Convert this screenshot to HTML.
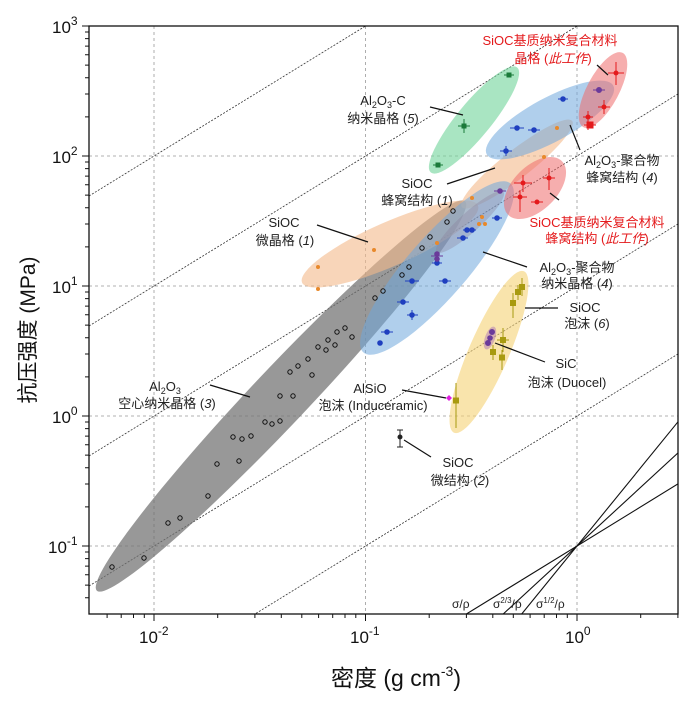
<!DOCTYPE html>
<html><head><meta charset="utf-8"><style>
html,body{margin:0;padding:0;background:#fff}
svg{display:block;font-family:"Liberation Sans","Noto Sans CJK SC",sans-serif}
.l{font-size:13px;fill:#222}
.r{font-size:13px;fill:#e41a1c}
.tk{font-size:17px;fill:#111}
</style></head><body>
<svg width="700" height="705" viewBox="0 0 700 705" xmlns="http://www.w3.org/2000/svg">
<defs><clipPath id="c"><rect x="89" y="26" width="589" height="588"/></clipPath></defs>
<rect width="700" height="705" fill="#fff"/>
<g stroke="#999" stroke-width="0.8" stroke-dasharray="3,3" fill="none">
<line x1="154" y1="26" x2="154" y2="614"/><line x1="365.5" y1="26" x2="365.5" y2="614"/><line x1="577" y1="26" x2="577" y2="614"/>
<line x1="89" y1="546" x2="678" y2="546"/><line x1="89" y1="416" x2="678" y2="416"/><line x1="89" y1="286" x2="678" y2="286"/><line x1="89" y1="156" x2="678" y2="156"/>
</g>
<g clip-path="url(#c)">
<g stroke="#333" stroke-width="0.8" stroke-dasharray="2,1.5" fill="none">
<line x1="89" y1="716" x2="678" y2="354"/><line x1="89" y1="586" x2="678" y2="224"/><line x1="89" y1="456" x2="678" y2="94"/><line x1="89" y1="326" x2="678" y2="-36"/><line x1="89" y1="196" x2="678" y2="-166"/>
</g>
<g stroke="#111" stroke-width="1.1">
<line x1="466.4" y1="614" x2="678" y2="483.9"/><line x1="503.2" y1="614" x2="678" y2="452.9"/><line x1="521.7" y1="614" x2="678" y2="421.8"/>
</g>
<ellipse cx="281" cy="396" rx="268" ry="28" transform="rotate(-46.6 281 396)" fill="#707070" fill-opacity="0.72"/>
<ellipse cx="390" cy="244" rx="96" ry="22" transform="rotate(-23.7 390 244)" fill="#f4b98a" fill-opacity="0.6"/>
<ellipse cx="517" cy="164" rx="70" ry="14" transform="rotate(-38 517 164)" fill="#f4b98a" fill-opacity="0.6"/>
<ellipse cx="437" cy="268" rx="112" ry="30" transform="rotate(-49 437 268)" fill="#6fa8dc" fill-opacity="0.55"/>
<ellipse cx="470" cy="222" rx="45" ry="10" transform="rotate(-42 470 222)" fill="#8a7f9a" fill-opacity="0.35"/>
<ellipse cx="550" cy="120" rx="72" ry="22" transform="rotate(-28.5 550 120)" fill="#6fa8dc" fill-opacity="0.55"/>
<ellipse cx="474" cy="120" rx="68" ry="17" transform="rotate(-50.6 474 120)" fill="#6fd39a" fill-opacity="0.6"/>
<ellipse cx="603" cy="90" rx="42" ry="16" transform="rotate(-62 603 90)" fill="#ef6b6b" fill-opacity="0.55"/>
<ellipse cx="535" cy="188" rx="38" ry="22" transform="rotate(-45 535 188)" fill="#ef6b6b" fill-opacity="0.55"/>
<ellipse cx="489" cy="352" rx="88" ry="20" transform="rotate(-66.6 489 352)" fill="#f5d274" fill-opacity="0.6"/>
<ellipse cx="490" cy="338" rx="12" ry="5" transform="rotate(-70 490 338)" fill="#9b59b6" fill-opacity="0.4"/>
</g>
<g fill="none" stroke="#111" stroke-width="1">
<circle cx="112" cy="567" r="2.2"/><circle cx="144" cy="558" r="2.2"/><circle cx="168" cy="523" r="2.2"/><circle cx="180" cy="518" r="2.2"/><circle cx="208" cy="496" r="2.2"/><circle cx="217" cy="464" r="2.2"/><circle cx="233" cy="437" r="2.2"/><circle cx="239" cy="461" r="2.2"/><circle cx="242" cy="439" r="2.2"/><circle cx="251" cy="436" r="2.2"/><circle cx="265" cy="422" r="2.2"/><circle cx="272" cy="424" r="2.2"/><circle cx="280" cy="421" r="2.2"/><circle cx="280" cy="396" r="2.2"/><circle cx="293" cy="396" r="2.2"/><circle cx="290" cy="372" r="2.2"/><circle cx="298" cy="366" r="2.2"/><circle cx="308" cy="359" r="2.2"/><circle cx="312" cy="375" r="2.2"/><circle cx="326" cy="350" r="2.2"/><circle cx="318" cy="347" r="2.2"/><circle cx="328" cy="340" r="2.2"/><circle cx="337" cy="332" r="2.2"/><circle cx="345" cy="328" r="2.2"/><circle cx="335" cy="345" r="2.2"/><circle cx="352" cy="337" r="2.2"/><circle cx="375" cy="298" r="2.2"/><circle cx="383" cy="291" r="2.2"/><circle cx="402" cy="275" r="2.2"/><circle cx="409" cy="267" r="2.2"/><circle cx="422" cy="248" r="2.2"/><circle cx="430" cy="237" r="2.2"/><circle cx="447" cy="222" r="2.2"/><circle cx="453" cy="211" r="2.2"/>
</g>
<g fill="#e8892b"><circle cx="318" cy="267" r="2"/><circle cx="318" cy="289" r="2"/><circle cx="374" cy="250" r="2"/><circle cx="437" cy="243" r="2"/><circle cx="472" cy="198" r="2"/><circle cx="479" cy="224" r="2"/><circle cx="485" cy="224" r="2"/><circle cx="482" cy="217" r="2"/><circle cx="544" cy="157" r="2"/><circle cx="557" cy="128" r="2"/></g>
<g stroke="#1f3fbf" stroke-width="1" fill="#1f3fbf">
<g><line x1="492" y1="218" x2="502" y2="218"/><circle cx="497" cy="218" r="2.3"/></g>
<g><line x1="463" y1="230" x2="476" y2="230"/><circle cx="467" cy="230" r="2.3"/><circle cx="472" cy="230" r="2.3"/></g>
<g><line x1="457" y1="238" x2="468" y2="238"/><circle cx="463" cy="238" r="2.3"/></g>
<g><line x1="432" y1="263" x2="442" y2="263"/><circle cx="437" cy="263" r="2.3"/></g>
<g><line x1="405" y1="281" x2="419" y2="281"/><circle cx="412" cy="281" r="2.3"/></g>
<g><line x1="439" y1="281" x2="451" y2="281"/><circle cx="445" cy="281" r="2.3"/></g>
<g><line x1="397" y1="302" x2="409" y2="302"/><circle cx="403" cy="302" r="2.3"/></g>
<g><line x1="407" y1="315" x2="418" y2="315"/><line x1="412" y1="310" x2="412" y2="320"/><circle cx="412" cy="315" r="2.3"/></g>
<g><line x1="381" y1="332" x2="393" y2="332"/><circle cx="387" cy="332" r="2.3"/></g>
<g><circle cx="380" cy="343" r="2.3"/></g>
<g><line x1="558" y1="99" x2="568" y2="99"/><circle cx="563" cy="99" r="2.3"/></g>
<g><line x1="510" y1="128" x2="524" y2="128"/><circle cx="517" cy="128" r="2.3"/></g>
<g><line x1="528" y1="130" x2="540" y2="130"/><circle cx="534" cy="130" r="2.3"/></g>
<g><line x1="500" y1="151" x2="512" y2="151"/><line x1="506" y1="146" x2="506" y2="156"/><circle cx="506" cy="151" r="2.3"/></g>
</g>
<g stroke="#6a3a9a" fill="#6a3a9a" stroke-width="1">
<line x1="494" y1="191" x2="506" y2="191"/><circle cx="500" cy="191" r="2.3"/>
<line x1="431" y1="256" x2="443" y2="256"/><circle cx="437" cy="254" r="2.3"/><circle cx="437" cy="259" r="2.3"/>
<line x1="593" y1="90" x2="605" y2="90"/><circle cx="599" cy="90" r="2.5"/>
<circle cx="492" cy="332" r="2.5"/><circle cx="488" cy="343" r="2.5"/><circle cx="490" cy="338" r="2.3"/>
</g>
<g stroke="#1b7a3a" fill="#1b7a3a" stroke-width="1">
<line x1="504" y1="75" x2="514" y2="75"/><rect x="507" y="73" width="4" height="4"/>
<line x1="458" y1="126" x2="470" y2="126"/><line x1="464" y1="119" x2="464" y2="133"/><rect x="462" y="124" width="4" height="4"/>
<line x1="433" y1="165" x2="443" y2="165"/><rect x="436" y="163" width="4" height="4"/>
</g>
<g stroke="#e41a1c" fill="#e41a1c" stroke-width="1">
<line x1="608" y1="73" x2="624" y2="73"/><line x1="616" y1="62" x2="616" y2="85"/><circle cx="616" cy="73" r="2"/>
<line x1="598" y1="107" x2="610" y2="107"/><line x1="604" y1="100" x2="604" y2="114"/><circle cx="604" cy="107" r="2"/>
<line x1="583" y1="117" x2="593" y2="117"/><line x1="588" y1="111" x2="588" y2="130"/><circle cx="588" cy="117" r="2"/>
<line x1="584" y1="125" x2="596" y2="125"/><rect x="587" y="122" width="6" height="6"/>
<line x1="543" y1="178" x2="555" y2="178"/><line x1="549" y1="168" x2="549" y2="190"/><circle cx="549" cy="178" r="2"/>
<line x1="514" y1="183" x2="532" y2="183"/><line x1="523" y1="175" x2="523" y2="192"/><circle cx="523" cy="183" r="2"/>
<line x1="513" y1="197" x2="527" y2="197"/><line x1="520" y1="190" x2="520" y2="212"/><circle cx="520" cy="197" r="2"/>
<line x1="531" y1="202" x2="543" y2="202"/><circle cx="537" cy="202" r="2"/>
</g>
<g stroke="#a89a10" fill="#a89a10" stroke-width="1">
<line x1="522" y1="278" x2="522" y2="296"/><rect x="519.5" y="284.5" width="5" height="5"/>
<line x1="518" y1="285" x2="518" y2="300"/><rect x="515.5" y="289.5" width="5" height="5"/>
<line x1="513" y1="293" x2="513" y2="318"/><rect x="510.5" y="300.5" width="5" height="5"/>
<line x1="503" y1="328" x2="503" y2="352"/><line x1="497" y1="340" x2="509" y2="340"/><rect x="500.5" y="337.5" width="5" height="5"/>
<line x1="493" y1="345" x2="493" y2="360"/><rect x="490.5" y="349.5" width="5" height="5"/>
<line x1="502" y1="350" x2="502" y2="370"/><rect x="499.5" y="355" width="5" height="5"/>
<line x1="456" y1="383" x2="456" y2="428"/><rect x="453.5" y="398" width="5" height="5"/>
</g>
<g fill="#e020e0"><path d="M449 395 L452 398 L449 401 L446 398Z"/></g>
<g stroke="#222" fill="#222" stroke-width="1"><line x1="400" y1="430" x2="400" y2="447"/><line x1="397" y1="430" x2="403" y2="430"/><line x1="397" y1="447" x2="403" y2="447"/><circle cx="400" cy="437" r="2"/></g>
<g stroke="#111" stroke-width="1.2">
<line x1="597" y1="65" x2="608" y2="75"/>
<line x1="430" y1="107" x2="463" y2="115"/>
<line x1="447" y1="184" x2="495" y2="168"/>
<line x1="570" y1="125" x2="580" y2="150"/>
<line x1="550" y1="193" x2="559" y2="200"/>
<line x1="483" y1="252" x2="527" y2="267"/>
<line x1="525" y1="308" x2="558" y2="308"/>
<line x1="317" y1="225" x2="368" y2="242"/>
<line x1="495" y1="343" x2="545" y2="362"/>
<line x1="210" y1="385" x2="250" y2="397"/>
<line x1="402" y1="390" x2="446" y2="398"/>
<line x1="404" y1="440" x2="431" y2="457"/>
</g>
<g text-anchor="middle">
<text class="r" x="550" y="45">SiOC基质纳米复合材料</text>
<text class="r" x="553" y="63">晶格 (<tspan font-style="italic">此工作</tspan>)</text>
<text class="l" x="383" y="105">Al<tspan font-size="9" dy="3">2</tspan><tspan dy="-3">O</tspan><tspan font-size="9" dy="3">3</tspan><tspan dy="-3">-C</tspan></text>
<text class="l" x="383" y="123">纳米晶格 (<tspan font-style="italic">5</tspan>)</text>
<text class="l" x="417" y="188">SiOC</text>
<text class="l" x="417" y="205">蜂窝结构 (<tspan font-style="italic">1</tspan>)</text>
<text class="l" x="622" y="165">Al<tspan font-size="9" dy="3">2</tspan><tspan dy="-3">O</tspan><tspan font-size="9" dy="3">3</tspan><tspan dy="-3">-聚合物</tspan></text>
<text class="l" x="622" y="182">蜂窝结构 (<tspan font-style="italic">4</tspan>)</text>
<text class="r" x="597" y="227">SiOC基质纳米复合材料</text>
<text class="r" x="597" y="243">蜂窝结构 (<tspan font-style="italic">此工作</tspan>)</text>
<text class="l" x="577" y="272">Al<tspan font-size="9" dy="3">2</tspan><tspan dy="-3">O</tspan><tspan font-size="9" dy="3">3</tspan><tspan dy="-3">-聚合物</tspan></text>
<text class="l" x="577" y="288">纳米晶格 (<tspan font-style="italic">4</tspan>)</text>
<text class="l" x="585" y="312">SiOC</text>
<text class="l" x="587" y="328">泡沫 (<tspan font-style="italic">6</tspan>)</text>
<text class="l" x="284" y="227">SiOC</text>
<text class="l" x="285" y="245">微晶格 (<tspan font-style="italic">1</tspan>)</text>
<text class="l" x="566" y="368">SiC</text>
<text class="l" x="567" y="387">泡沫 (Duocel)</text>
<text class="l" x="165" y="391">Al<tspan font-size="9" dy="3">2</tspan><tspan dy="-3">O</tspan><tspan font-size="9" dy="3">3</tspan></text>
<text class="l" x="167" y="408">空心纳米晶格 (<tspan font-style="italic">3</tspan>)</text>
<text class="l" x="370" y="393">AlSiO</text>
<text class="l" x="373" y="410">泡沫 (Induceramic)</text>
<text class="l" x="458" y="467">SiOC</text>
<text class="l" x="460" y="485">微结构 (<tspan font-style="italic">2</tspan>)</text>
</g>
<g class="l">
<text x="452" y="608" style="font-size:12px">σ/ρ</text>
<text x="493" y="608" style="font-size:12px">σ<tspan font-size="8" dy="-5">2/3</tspan><tspan dy="5">/ρ</tspan></text>
<text x="536" y="608" style="font-size:12px">σ<tspan font-size="8" dy="-5">1/2</tspan><tspan dy="5">/ρ</tspan></text>
</g>
<rect x="89" y="26" width="589" height="588" fill="none" stroke="#111" stroke-width="1.3"/>
<g stroke="#111" stroke-width="1">
<line x1="154" y1="614" x2="154" y2="621"/><line x1="365.5" y1="614" x2="365.5" y2="621"/><line x1="577" y1="614" x2="577" y2="621"/>
<path d="M107.1 614v4M121.2 614v4M133.5 614v4M144.3 614v4M217.7 614v4M254.9 614v4M281.3 614v4M301.8 614v4M318.6 614v4M332.7 614v4M345 614v4M355.8 614v4M429.2 614v4M466.4 614v4M492.8 614v4M513.3 614v4M530.1 614v4M544.2 614v4M556.5 614v4M567.3 614v4M640.7 614v4M677.9 614v4"/>
<line x1="82" y1="546" x2="89" y2="546"/><line x1="82" y1="416" x2="89" y2="416"/><line x1="82" y1="286" x2="89" y2="286"/><line x1="82" y1="156" x2="89" y2="156"/><line x1="82" y1="26" x2="89" y2="26"/>
<path d="M85 597.7h4M85 585.1h4M85 574.8h4M85 566.1h4M85 558.6h4M85 552h4M85 506.9h4M85 484h4M85 467.7h4M85 455.1h4M85 444.8h4M85 436.1h4M85 428.6h4M85 422h4M85 376.9h4M85 354h4M85 337.7h4M85 325.1h4M85 314.8h4M85 306.1h4M85 298.6h4M85 292h4M85 246.9h4M85 224h4M85 207.7h4M85 195.1h4M85 184.8h4M85 176.1h4M85 168.6h4M85 162h4M85 116.9h4M85 94h4M85 77.7h4M85 65.1h4M85 54.8h4M85 46.1h4M85 38.6h4M85 32h4"/>
</g>
<g class="tk">
<text x="52" y="33">10<tspan font-size="12" dy="-8">3</tspan></text>
<text x="52" y="163">10<tspan font-size="12" dy="-8">2</tspan></text>
<text x="52" y="293">10<tspan font-size="12" dy="-8">1</tspan></text>
<text x="52" y="423">10<tspan font-size="12" dy="-8">0</tspan></text>
<text x="48" y="553">10<tspan font-size="12" dy="-8">-1</tspan></text>
<text x="139" y="643">10<tspan font-size="12" dy="-8">-2</tspan></text>
<text x="350" y="643">10<tspan font-size="12" dy="-8">-1</tspan></text>
<text x="565" y="643">10<tspan font-size="12" dy="-8">0</tspan></text>
</g>
<text x="396" y="686" text-anchor="middle" style="font-size:23px" fill="#111">密度 (g cm<tspan font-size="14" dy="-10">-3</tspan><tspan dy="10">)</tspan></text>
<text transform="translate(35 330) rotate(-90)" text-anchor="middle" style="font-size:21px" fill="#111">抗压强度 (MPa)</text>
</svg>
</body></html>
